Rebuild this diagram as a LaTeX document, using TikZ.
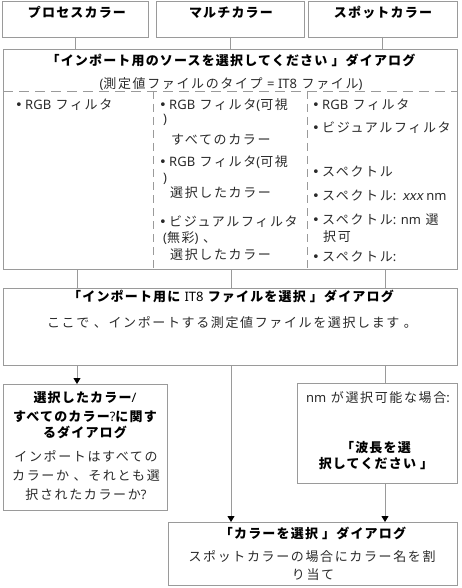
\documentclass[tikz,border=0pt]{standalone}
\usepackage{fontspec}
\setmainfont{Noto Sans CJK JP}
\newfontfamily\nrm{Noto Sans CJK JP}[LetterSpace=12.5]
\newfontfamily\ttlf{Noto Sans CJK JP}[LetterSpace=9]
\newfontfamily\lat{Noto Sans}
\newfontfamily\slnt{Noto Sans}[FakeSlant=0.2]
\newfontfamily\bul{DejaVu Sans}
\usetikzlibrary{arrows.meta}
\definecolor{linegray}{HTML}{9A9A9A}
\definecolor{txtgray}{HTML}{2A2A2A}
\begin{document}
\begin{tikzpicture}[x=1pt,y=-1pt,
  box/.style={draw=linegray, line width=0.9pt, anchor=north west, inner sep=0pt, outer sep=0pt},
  conn/.style={draw=linegray, line width=0.9pt},
  arr/.style={conn, -{Triangle[length=6pt,width=7pt,color=black]}},
  txt/.style={inner sep=0pt, text height=11pt, text depth=2pt, font=\nrm\fontsize{13}{15}\selectfont, text=txtgray},
  ttl/.style={txt, font=\ttlf\bfseries\fontsize{13}{15}\selectfont, text=black},
  lt/.style={txt, anchor=west},
  dsh/.style={draw=linegray, line width=0.8pt, dash pattern=on 10pt off 6pt},
  vdsh/.style={draw=linegray, line width=0.8pt, dash pattern=on 8pt off 5pt},
]
\useasboundingbox (0,0) rectangle (461,588);

% boxes
\node[box, minimum width=146pt, minimum height=36pt] (pc) at (2,1) {};
\node[box, minimum width=148pt, minimum height=36pt] (mc) at (156,1) {};
\node[box, minimum width=149pt, minimum height=36pt] (sc) at (308,1) {};
\node[box, minimum width=454pt, minimum height=220pt] (src) at (3,49) {};
\node[box, minimum width=454pt, minimum height=77pt] (it8) at (3,288) {};
\node[box, minimum width=164pt, minimum height=126pt] (dlg) at (3,384) {};
\node[box, minimum width=160pt, minimum height=100pt] (wl) at (297,383) {};
\node[box, minimum width=289pt, minimum height=63pt] (col) at (168,522) {};

% top titles
\node[ttl] (t1) at (77,13) {プロセスカラー};
\node[ttl] (t2) at (231,13) {マルチカラー};
\node[ttl] (t3) at (383,13) {スポットカラー};

% source dialog
\node[ttl] (st) at (231,61) {「インポート用のソースを選択してください 」ダイアログ};
\node[txt] (ss) at (231,84) {{\lat (}測定値ファイルのタイプ {\lat = IT8} ファイル{\lat )}};
\coordinate (dl) at (3,91);
\draw[dsh] (src.west |- dl) -- (src.east |- dl);
\coordinate (v1) at (153,91);
\coordinate (v2) at (307,91);
\draw[vdsh] (v1) -- (v1 |- src.south);
\draw[vdsh] (v2) -- (v2 |- src.south);

% column 1
\node[lt] (b11) at (15,105) {\bul •};
\node[lt] (i11) at (25,105) {{\lat RGB} フィルタ};

% column 2
\node[lt] (b21) at (159,105) {\bul •};
\node[lt] (i21) at (169,105) {{\lat RGB} フィルタ{\lat (}可視};
\node[lt] (i21a) at (163,119) {\lat )};
\node[lt] (i21b) at (171,140) {すべてのカラー};
\node[lt] (b22) at (159,162) {\bul •};
\node[lt] (i22) at (169,162) {{\lat RGB} フィルタ{\lat (}可視};
\node[lt] (i22a) at (163,178) {\lat )};
\node[lt] (i22b) at (170,193) {選択したカラー};
\node[lt] (b23) at (159,222) {\bul •};
\node[lt] (i23) at (169,222) {ビジュアルフィルタ};
\node[lt] (i23a) at (163,238) {{\lat (}無彩{\lat )} 、};
\node[lt] (i23b) at (170,255) {選択したカラー};

% column 3
\node[lt] (b31) at (312,105) {\bul •};
\node[lt] (i31) at (322,105) {{\lat RGB} フィルタ};
\node[lt] (b32) at (312,128) {\bul •};
\node[lt] (i32) at (322,128) {ビジュアルフィルタ};
\node[lt] (b33) at (312,172) {\bul •};
\node[lt] (i33) at (322,172) {スペクトル};
\node[lt] (b34) at (312,196) {\bul •};
\node[lt] (i34) at (322,196) {スペクトル{\lat :} {\slnt xxx}{\lat\ nm}};
\node[lt] (b35) at (312,220) {\bul •};
\node[lt] (i35) at (322,220) {スペクトル{\lat : nm} 選};
\node[lt] (i35a) at (323,237) {択可};
\node[lt] (b36) at (312,257) {\bul •};
\node[lt] (i36) at (322,257) {スペクトル{\lat :}};

% IT8 dialog
\node[ttl] (it) at (231,297) {「インポート用に {\lat IT8} ファイルを選択 」ダイアログ};
\node[txt] (is) at (232,323) {ここで 、インポートする測定値ファイルを選択します 。};

% selected / all colours dialog
\node[ttl] (d1) at (85,398) {選択したカラー{\lat /}};
\node[ttl] (d2) at (85,417) {すべてのカラー{\lat ?}に関す};
\node[ttl] (d3) at (85,433) {るダイアログ};
\node[txt] (d4) at (86,457) {インポートはすべての};
\node[txt] (d5) at (86,476) {カラーか 、それとも選};
\node[txt] (d6) at (86,495) {択されたカラーか{\lat ?}};

% wavelength
\node[txt] (w1) at (378,398) {{\lat nm} が選択可能な場合{\lat :}};
\node[ttl] (w2) at (376,448) {「波長を選};
\node[ttl] (w3) at (376,464) {択してください 」};

% colour dialog
\node[ttl] (c1) at (313,534) {「カラーを選択 」ダイアログ};
\node[txt] (c2) at (312,557) {スポットカラーの場合にカラー名を割};
\node[txt] (c3) at (313,575) {り当て};

% connectors
\draw[conn] (pc.south) -- (pc.south |- src.north);
\draw[conn] (mc.south) -- (mc.south |- src.north);
\draw[conn] (sc.south) -- (sc.south |- src.north);
\coordinate (s1) at (77,0);
\coordinate (s2) at (231,0);
\coordinate (s3) at (385,0);
\draw[conn] (s1 |- src.south) -- (s1 |- it8.north);
\draw[conn] (s2 |- src.south) -- (s2 |- it8.north);
\draw[conn] (s3 |- src.south) -- (s3 |- it8.north);
\draw[arr] (s1 |- it8.south) -- (s1 |- dlg.north);
\draw[arr] (s2 |- it8.south) -- (s2 |- col.north);
\draw[conn] (s3 |- it8.south) -- (s3 |- wl.north);
\draw[arr] (s3 |- wl.south) -- (s3 |- col.north);
\end{tikzpicture}
\end{document}
